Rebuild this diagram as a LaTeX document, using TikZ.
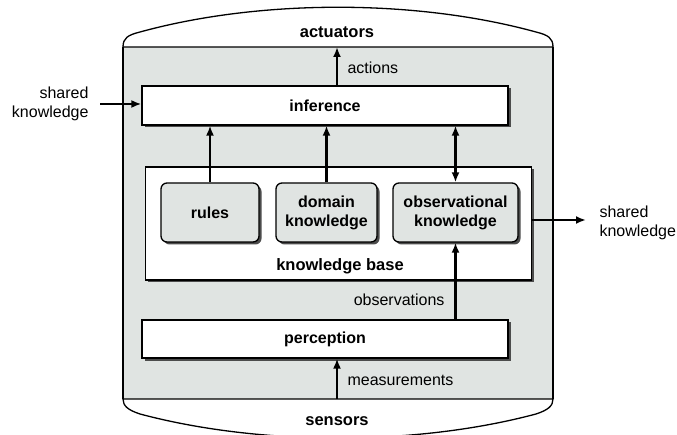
\documentclass[tikz,border=0pt]{standalone}
\usepackage{fontspec}
\setmainfont{Liberation Sans}
\usetikzlibrary{arrows.meta,shadows}
\definecolor{bodygray}{RGB}{224,228,226}
\tikzstyle{panel} = [draw=black, line width=1.3pt, fill=white, inner sep=0pt, minimum height=39pt, font={\fontsize{16}{19}\selectfont\bfseries}, drop shadow={shadow xshift=2.5pt, shadow yshift=-2.5pt, fill=black!70, opacity=1}]
\tikzstyle{store} = [panel, fill=bodygray, rounded corners=6pt, align=center, minimum height=59pt]
\tikzstyle{bold} = [font={\fontsize{16.5}{19}\selectfont\bfseries}]
\tikzstyle{tag} = [font={\fontsize{16}{19}\selectfont}]
\tikzstyle{flow} = [line width=2.8pt, -{Latex[length=10pt,width=8pt]}]
\tikzstyle{both} = [line width=2.8pt, {Latex[length=10pt,width=8pt]}-{Latex[length=10pt,width=8pt]}]

\begin{document}
\begin{tikzpicture}[x=1pt,y=-1pt]
    \clip (0,0) rectangle (677,435);
    % agent body
    \fill[bodygray] (123,47) rectangle (553,399);
    \draw[line width=1.3pt] (123,47) -- (123,399) (553,47) -- (553,399);
    \draw[line width=1.3pt] (123,47) .. controls (123,38) and (128,35) .. (140,32)
        .. controls (260,-1) and (416,-1) .. (536,32)
        .. controls (548,35) and (553,38) .. (553,47) -- cycle;
    \draw[line width=1.3pt] (123,399) .. controls (123,406) and (128,410) .. (140,414)
        .. controls (260,446) and (416,446) .. (536,414)
        .. controls (548,410) and (553,406) .. (553,399) -- cycle;
    \node[bold](act) at (337,32){actuators};
    \node[bold](sen) at (337,421){sensors};
    \coordinate (top) at (337,47);
    \coordinate (bot) at (337,399);
    % boxes
    \node[panel,minimum width=366pt](inf) at (325,105.5){inference};
    \node[panel,minimum width=386pt,minimum height=113pt](kb) at (338.5,223.5){};
    \node[bold](kbl) at (340,266){knowledge base};
    \node[store,minimum width=98pt](rules) at (210,212.5){rules};
    \node[store,minimum width=101pt](dom) at (326.5,212.5){domain\\knowledge};
    \node[store,minimum width=125pt](obs) at (455.5,212.5){observational\\knowledge};
    \node[panel,minimum width=366pt,minimum height=38pt](per) at (325,339){perception};
    % flows
    \draw[flow](top |- inf.north)--(top);
    \node[tag,anchor=west](actl) at (344,68){actions};
    \draw[flow](rules.north)--(rules.north |- inf.south);
    \draw[flow](dom.north)--(dom.north |- inf.south);
    \draw[both](obs.north)--(obs.north |- inf.south);
    \draw[flow](obs.south |- per.north)--(obs.south);
    \node[tag,anchor=east](obsl) at (448,300){observations};
    \draw[flow](bot)--(bot |- per.south);
    \node[tag,anchor=west](mesl) at (344,380){measurements};
    \node[tag,anchor=east,align=right](shl) at (92,104){shared\\knowledge};
    \coordinate (shin) at (100,104);
    \draw[flow](shin)--(shin -| inf.west);
    \node[tag,anchor=west,align=left](shr) at (596,223){shared\\knowledge};
    \coordinate (shout) at (586,220);
    \draw[flow](kb.east |- shout)--(shout);
  \end{tikzpicture}
\end{document}
